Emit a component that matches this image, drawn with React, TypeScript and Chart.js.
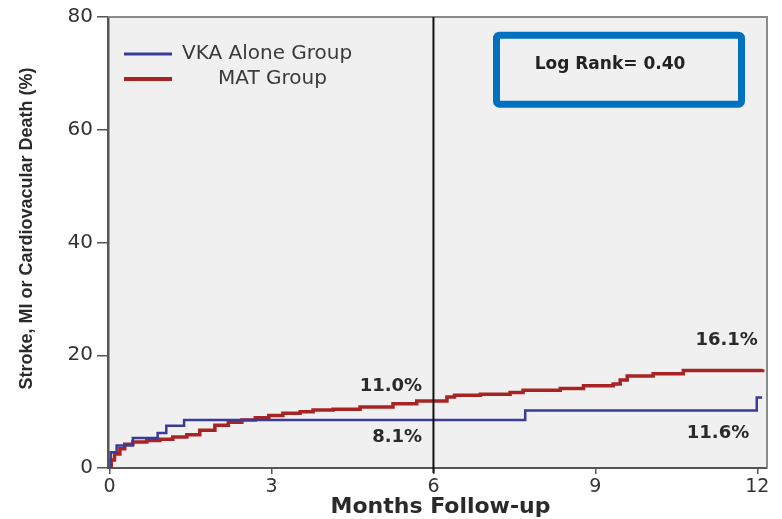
import React, { useEffect, useRef } from 'react';
import { Chart, registerables } from 'chart.js';

Chart.register(...registerables);

// ---- Data ----
const vkaMonths = [0, 0.02, 0.13, 0.43, 0.89, 1.05, 1.38, 7.7, 11.99, 12.09];
const vkaRisk = [0, 2.8, 4.0, 5.3, 6.2, 7.5, 8.5, 10.2, 12.5, 12.5];

const matMonths = [0, 0.03, 0.09, 0.19, 0.28, 0.43, 0.69, 0.93, 1.17, 1.43, 1.67, 1.95, 2.2, 2.45, 2.7, 2.95, 3.21, 3.53, 3.77, 4.14, 4.64, 5.25, 5.69, 6.25, 6.39, 6.87, 7.42, 7.66, 8.35, 8.78, 9.33, 9.46, 9.59, 10.07, 10.63, 12.1];
const matRisk = [0, 1.4, 2.5, 3.4, 4.2, 4.6, 4.9, 5.1, 5.5, 5.9, 6.7, 7.6, 8.1, 8.5, 8.9, 9.3, 9.7, 10.0, 10.3, 10.4, 10.8, 11.4, 11.9, 12.6, 12.9, 13.1, 13.4, 13.8, 14.1, 14.6, 14.9, 15.6, 16.3, 16.7, 17.3, 17.5];

const seriesNames = ['VKA Alone Group', 'MAT Group'];
const seriesColors = ['#3a3a9c', '#a82424'];

const xTickValues = [0, 3, 6, 9, 12];
const yTickValues = [0, 20, 40, 60, 80];

const xTitle = 'Months Follow-up';
const yTitle = 'Stroke, MI or Cardiovacular Death (%)';
const logRankText = 'Log Rank= 0.40';
const cutoffMonth = 6;

// value labels: text, month (right edge), risk (vertical centre)
const labelTexts = ['11.0%', '8.1%', '16.1%', '11.6%'];
const labelMonths = [5.79, 5.79, 12.01, 11.85];
const labelRisks = [14.4, 5.5, 22.6, 6.2];

const W = 782;
const H = 519;

const toPoints = (xs: number[], ys: number[]) => xs.map((x, i) => ({ x, y: ys[i] }));

const overlayPlugin = {
  id: 'overlay',
  beforeDraw(chart: any) {
    const { ctx, chartArea: a } = chart;
    ctx.save();
    ctx.fillStyle = '#f0f0f0';
    ctx.fillRect(a.left, a.top, a.right - a.left, a.bottom - a.top);
    ctx.restore();
  },
  afterDatasetsDraw(chart: any) {
    const { ctx, chartArea: a, scales } = chart;
    const xs = scales.x;
    const ys = scales.y;
    ctx.save();

    // top and right frame
    ctx.strokeStyle = '#8a8a8a';
    ctx.lineWidth = 2;
    ctx.beginPath();
    ctx.moveTo(a.left, a.top);
    ctx.lineTo(a.right, a.top);
    ctx.lineTo(a.right, a.bottom);
    ctx.stroke();

    // vertical line at 6 months
    const x6 = xs.getPixelForValue(cutoffMonth);
    ctx.strokeStyle = '#111';
    ctx.lineWidth = 2;
    ctx.beginPath();
    ctx.moveTo(x6, a.top);
    ctx.lineTo(x6, a.bottom + 5);
    ctx.stroke();

    // legend
    const legendY = [54, 79];
    seriesNames.forEach((name, i) => {
      ctx.strokeStyle = seriesColors[i];
      ctx.lineWidth = i === 0 ? 3 : 4;
      ctx.beginPath();
      ctx.moveTo(124, legendY[i]);
      ctx.lineTo(172, legendY[i]);
      ctx.stroke();
      ctx.fillStyle = '#3a3a3a';
      ctx.font = '20px "DejaVu Sans"';
      ctx.textAlign = 'left';
      ctx.textBaseline = 'middle';
      ctx.fillText(name, i === 0 ? 182 : 218, legendY[i]);
    });

    // log rank box
    ctx.strokeStyle = '#0070c0';
    ctx.lineWidth = 7;
    ctx.beginPath();
    if ((ctx as any).roundRect) {
      (ctx as any).roundRect(496.5, 35.2, 245, 69, 3);
    } else {
      ctx.rect(496.5, 35.2, 245, 69);
    }
    ctx.stroke();
    ctx.fillStyle = '#222';
    ctx.font = 'bold 17px "DejaVu Sans"';
    ctx.textAlign = 'center';
    ctx.textBaseline = 'middle';
    ctx.fillText(logRankText, 610, 65);

    // value labels
    ctx.fillStyle = '#2a2a2a';
    ctx.font = 'bold 18px "DejaVu Sans"';
    ctx.textAlign = 'right';
    ctx.textBaseline = 'middle';
    labelTexts.forEach((t, i) => {
      ctx.fillText(t, xs.getPixelForValue(labelMonths[i]), ys.getPixelForValue(labelRisks[i]));
    });

    // axis titles
    ctx.fillStyle = '#2a2a2a';
    ctx.font = 'bold 22px "DejaVu Sans"';
    ctx.textAlign = 'center';
    ctx.textBaseline = 'middle';
    ctx.fillText(xTitle, 440.5, 507);

    ctx.translate(27, 228.5);
    ctx.rotate(-Math.PI / 2);
    ctx.font = 'bold 18px "Liberation Sans"';
    ctx.fillText(yTitle, 0, 0);

    ctx.restore();
  },
};

export default function App() {
  const canvasRef = useRef<HTMLCanvasElement | null>(null);

  useEffect(() => {
    const canvas = canvasRef.current;
    if (!canvas) return;
    const chart = new Chart(canvas, {
      type: 'line',
      data: {
        datasets: [
          {
            label: seriesNames[0],
            data: toPoints(vkaMonths, vkaRisk),
            borderColor: seriesColors[0],
            borderWidth: 2.5,
            pointRadius: 0,
            stepped: true,
            fill: false,
          },
          {
            label: seriesNames[1],
            data: toPoints(matMonths, matRisk),
            borderColor: seriesColors[1],
            borderWidth: 3.5,
            pointRadius: 0,
            stepped: true,
            fill: false,
          },
        ],
      },
      options: {
        animation: false,
        responsive: false,
        devicePixelRatio: 1,
        layout: { padding: { left: 0, top: 17, right: 15, bottom: 0 } },
        plugins: {
          legend: { display: false },
          tooltip: { enabled: false },
          title: { display: false },
        },
        scales: {
          x: {
            type: 'linear',
            min: -0.03,
            max: 12.18,
            afterFit: (s: any) => {
              s.height = 51;
            },
            afterBuildTicks: (s: any) => {
              s.ticks = xTickValues.map((v) => ({ value: v }));
            },
            ticks: {
              color: '#333',
              font: { family: '"DejaVu Sans"', size: 19 },
              padding: 2,
              maxRotation: 0,
              autoSkip: false,
              callback: (v: any) => String(v),
            },
            grid: {
              display: true,
              drawOnChartArea: false,
              drawTicks: true,
              tickLength: 6,
              color: '#555',
              lineWidth: 1.5,
            },
            border: { display: true, color: '#555', width: 2 },
          },
          y: {
            type: 'linear',
            min: 0,
            max: 80,
            afterFit: (s: any) => {
              s.width = 108;
            },
            afterBuildTicks: (s: any) => {
              s.ticks = yTickValues.map((v) => ({ value: v }));
            },
            ticks: {
              color: '#333',
              font: { family: '"DejaVu Sans"', size: 20 },
              padding: 4,
              autoSkip: false,
              callback: (v: any) => String(v),
            },
            grid: {
              display: true,
              drawOnChartArea: false,
              drawTicks: true,
              tickLength: 11,
              color: '#555',
              lineWidth: 1.5,
            },
            border: { display: true, color: '#555', width: 2.5 },
          },
        },
      },
      plugins: [overlayPlugin],
    } as any);
    return () => chart.destroy();
  }, []);

  return (
    <div style={{ position: 'absolute', left: 0, top: 0, width: W, height: H, background: '#fff' }}>
      <canvas ref={canvasRef} width={W} height={H} style={{ display: 'block', width: W, height: H }} />
    </div>
  );
}
